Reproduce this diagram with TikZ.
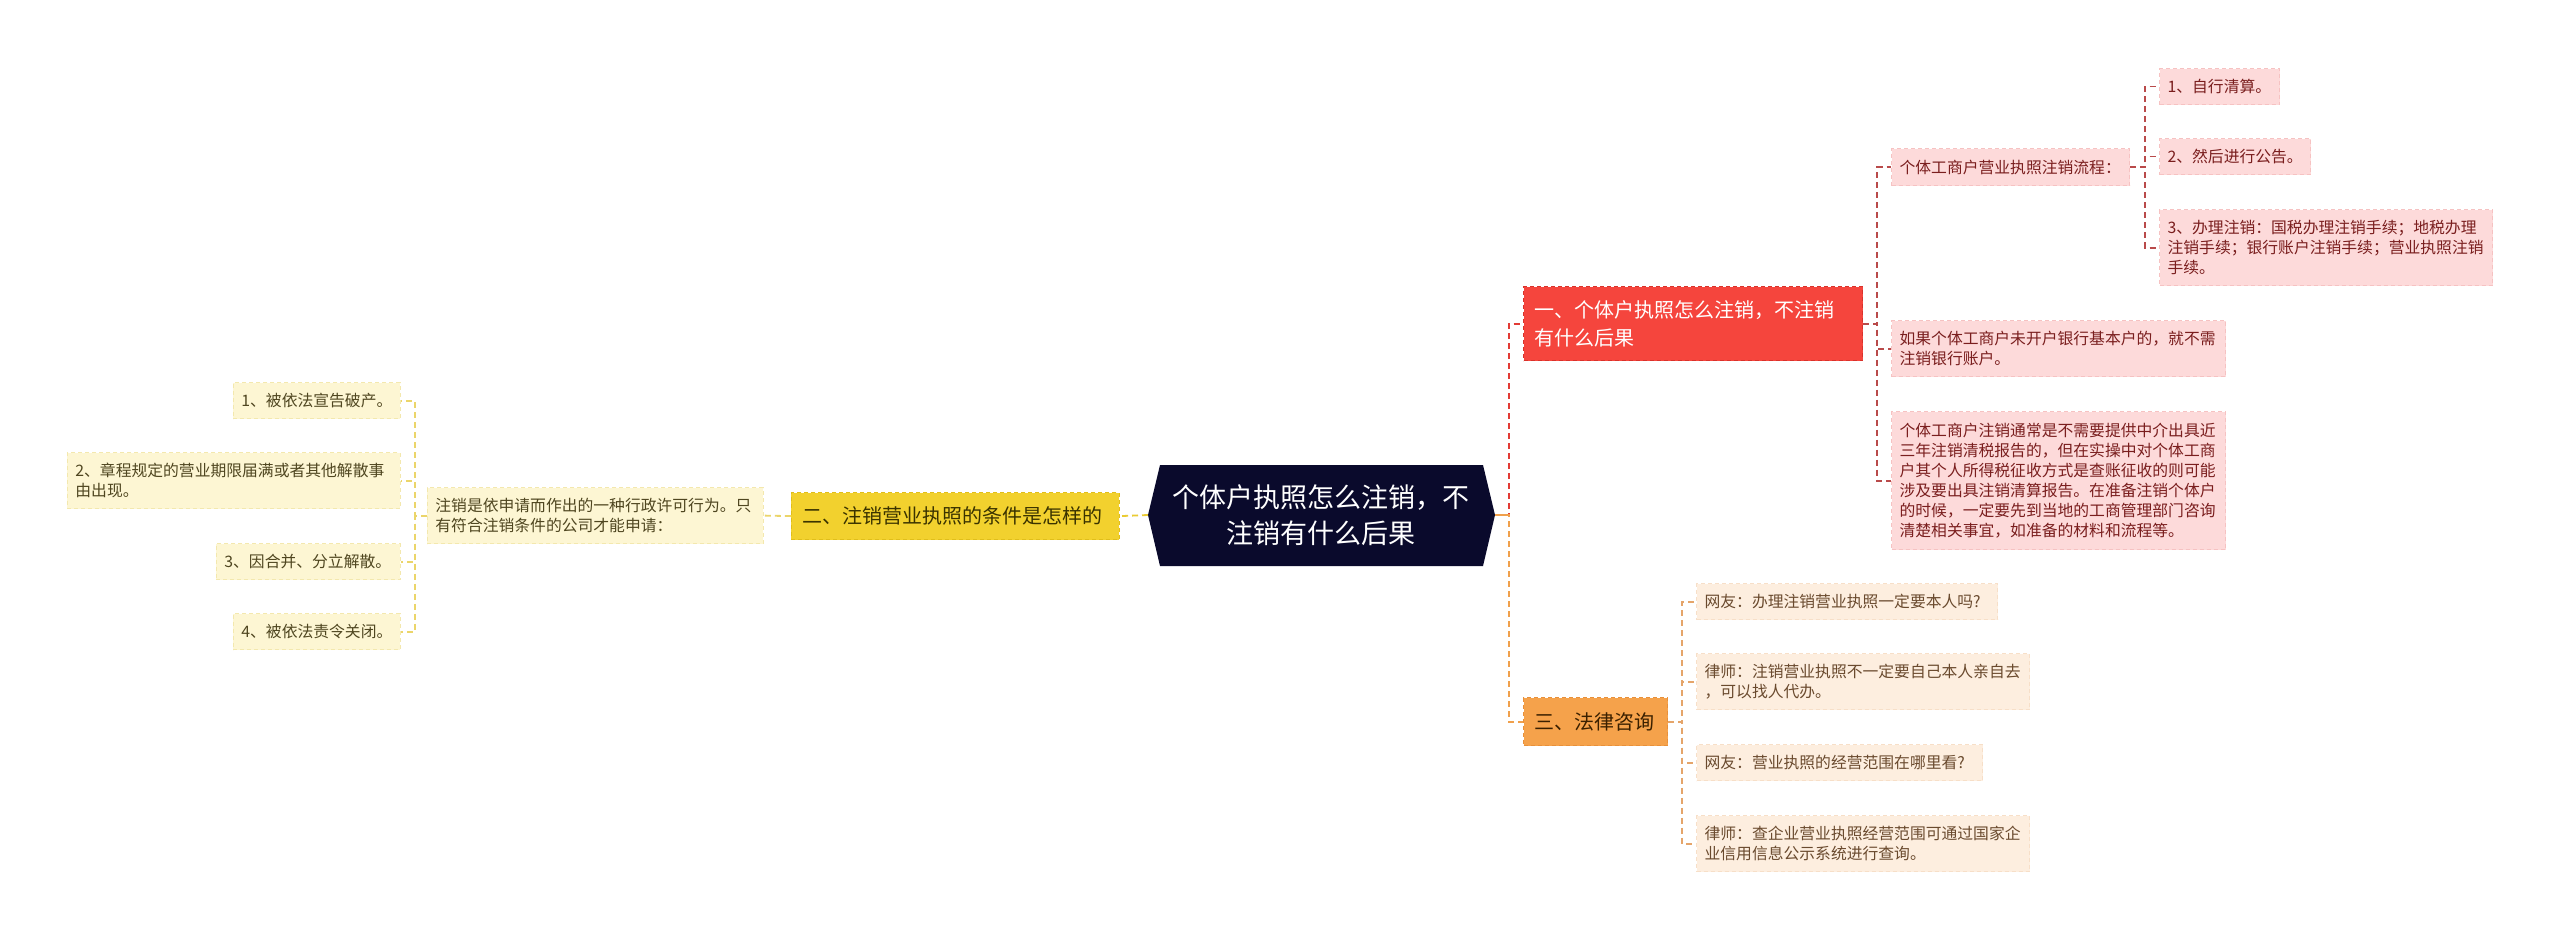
\documentclass[tikz,border=0pt]{standalone}
\usepackage{fontspec}
\setmainfont{Noto Sans CJK SC}
\definecolor{rootc}{HTML}{0A0A2C}
\definecolor{rbf}{HTML}{F5453D}
\definecolor{rbb}{HTML}{D9322B}
\definecolor{rl1}{HTML}{E23B35}
\definecolor{rl2}{HTML}{B94A4A}
\definecolor{rlf}{HTML}{FDDADA}
\definecolor{rlb}{HTML}{F6C2C2}
\definecolor{rlt}{HTML}{7A1E1E}
\definecolor{ybf}{HTML}{F2D12E}
\definecolor{ybb}{HTML}{E0BE1A}
\definecolor{ybt}{HTML}{3A3300}
\definecolor{yl1}{HTML}{EACB33}
\definecolor{yl2}{HTML}{EBD56A}
\definecolor{ylf}{HTML}{FDF6D3}
\definecolor{ylb}{HTML}{F3E8AE}
\definecolor{ylt}{HTML}{4F4620}
\definecolor{obf}{HTML}{F5A24B}
\definecolor{obb}{HTML}{E8903A}
\definecolor{obt}{HTML}{3A2000}
\definecolor{ol1}{HTML}{F0A04C}
\definecolor{ol2}{HTML}{E5A56A}
\definecolor{olf}{HTML}{FDEEDF}
\definecolor{olb}{HTML}{F7DFC8}
\definecolor{olt}{HTML}{6A4A2E}
\begin{document}
\begin{tikzpicture}[x=1pt,y=-1pt,
  basebox/.style={rectangle, inner xsep=8pt, inner ysep=0pt, align=left,
    line width=1.2pt, dash pattern=on 4pt off 3pt},
  leaf/.style={basebox, font=\fontsize{15.8}{20}\selectfont},
  leafR/.style={leaf, fill=rlf, draw=rlb, text=rlt},
  leafY/.style={leaf, fill=ylf, draw=ylb, text=ylt},
  leafO/.style={leaf, fill=olf, draw=olb, text=olt},
  branch/.style={basebox, inner xsep=11pt, font=\fontsize{20}{28}\selectfont},
  branchR/.style={branch, fill=rbf, draw=rbb, text=white},
  branchY/.style={branch, fill=ybf, draw=ybb, text=ybt},
  branchO/.style={branch, fill=obf, draw=obb, text=obt},
  conn/.style={line width=1.8pt, dash pattern=on 6pt off 4pt},
  nw/.style={anchor=north west},
  ne/.style={anchor=north east}]
\useasboundingbox[fill=white] (0,0) rectangle (2560,939);

% root
\fill[rootc] (1148,515) -- (1160,465) -- (1483,465) -- (1495,515) -- (1483,566) -- (1160,566) -- cycle;
\coordinate (rootL) at (1148,515);
\coordinate (rootR) at (1495,515);
\node[text=white, align=center, font=\fontsize{27}{36}\selectfont] (root) at (1321,515)
  {个体户执照怎么注销，不\\注销有什么后果};

% branch 1 (red)
\node[branchR, nw, text width=317pt, minimum height=74pt] (rB) at (1523,286)
  {一、个体户执照怎么注销，不注销\\有什么后果};
\node[leafR, nw, text width=222pt, minimum height=37pt] (r1) at (1891,148)
  {个体工商户营业执照注销流程：};
\node[leafR, nw, text width=318pt, minimum height=56pt] (r2) at (1891,320)
  {如果个体工商户未开户银行基本户的，就不需\\注销银行账户。};
\node[leafR, nw, text width=318pt, minimum height=138pt] (r3) at (1891,411)
  {个体工商户注销通常是不需要提供中介出具近\\三年注销清税报告的，但在实操中对个体工商\\户其个人所得税征收方式是查账征收的则可能\\涉及要出具注销清算报告。在准备注销个体户\\的时候，一定要先到当地的工商管理部门咨询\\清楚相关事宜，如准备的材料和流程等。};
\node[leafR, nw, text width=104pt, minimum height=36pt] (r11) at (2159,68)
  {1、自行清算。};
\node[leafR, nw, text width=135pt, minimum height=36pt] (r12) at (2159,138)
  {2、然后进行公告。};
\node[leafR, nw, text width=317pt, minimum height=76pt] (r13) at (2159,209)
  {3、办理注销：国税办理注销手续；地税办理\\注销手续；银行账户注销手续；营业执照注销\\手续。};

% branch 3 (orange)
\node[branchO, nw, text width=122pt, minimum height=48pt] (oB) at (1523,697)
  {三、法律咨询};
\node[leafO, nw, text width=285pt, minimum height=36pt] (o1) at (1696,583)
  {网友：办理注销营业执照一定要本人吗?};
\node[leafO, nw, text width=317pt, minimum height=56pt] (o2) at (1696,653)
  {律师：注销营业执照不一定要自己本人亲自去\\，可以找人代办。};
\node[leafO, nw, text width=270pt, minimum height=36pt] (o3) at (1696,744)
  {网友：营业执照的经营范围在哪里看?};
\node[leafO, nw, text width=317pt, minimum height=56pt] (o4) at (1696,815)
  {律师：查企业营业执照经营范围可通过国家企\\业信用信息公示系统进行查询。};

% branch 2 (yellow)
\node[branchY, ne, text width=306pt, minimum height=47pt] (yB) at (1120,492)
  {二、注销营业执照的条件是怎样的};
\node[leafY, ne, text width=320pt, minimum height=56pt] (y0) at (764,487)
  {注销是依申请而作出的一种行政许可行为。只\\有符合注销条件的公司才能申请：};
\node[leafY, ne, text width=151pt, minimum height=36pt] (y1) at (401,382)
  {1、被依法宣告破产。};
\node[leafY, ne, text width=317pt, minimum height=56pt] (y2) at (401,452)
  {2、章程规定的营业期限届满或者其他解散事\\由出现。};
\node[leafY, ne, text width=168pt, minimum height=36pt] (y3) at (401,543)
  {3、因合并、分立解散。};
\node[leafY, ne, text width=151pt, minimum height=36pt] (y4) at (401,613)
  {4、被依法责令关闭。};

% connectors
\draw[conn, rl1] (rootR) -- ++(14,0) |- (rB.west);
\draw[conn, ol1] (rootR) -- ++(14,0) |- (oB.west);
\draw[line width=1.8pt, ol1] (rootR) -- ++(14,0);
\draw[conn, yl1] (rootL) -- (yB.east);

\foreach \c in {r1,r2,r3} \draw[conn, rl2] (rB.east) -- ++(14,0) |- (\c.west);
\foreach \c in {r11,r12,r13} \draw[conn, rl2] (r1.east) -- ++(15,0) |- (\c.west);
\foreach \c in {o1,o2,o3,o4} \draw[conn, ol2] (oB.east) -- ++(14,0) |- (\c.west);
\draw[conn, yl2] (yB.west) -- (y0.east);
\foreach \c in {y1,y2,y3,y4} \draw[conn, yl2] (y0.west) -- ++(-12,0) |- (\c.east);
\end{tikzpicture}
\end{document}
